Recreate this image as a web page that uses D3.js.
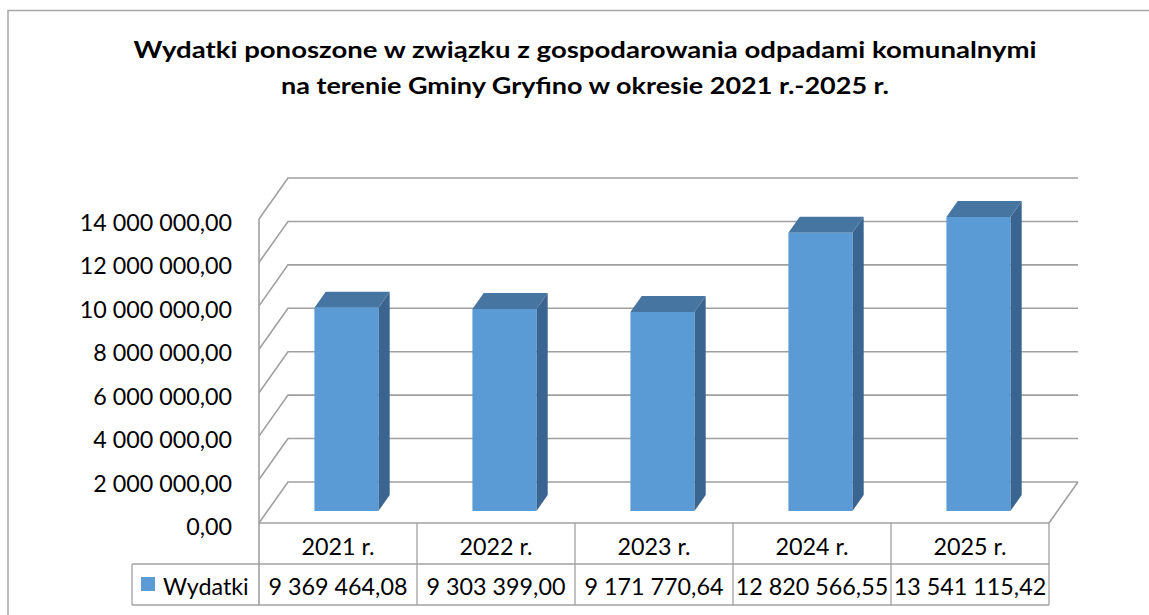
<!DOCTYPE html>
<html>
<head>
<meta charset="utf-8">
<script src="https://cdn.jsdelivr.net/npm/d3@7"></script>
<style>
	html, body { margin: 0; padding: 0; background: #fff; overflow: hidden; }
	svg { display: block; font-family: Lato, "Open Sans", sans-serif; }
</style>
</head>
<body>
<svg id="chart" width="1149" height="615"></svg>
<script>
var titleLines = [
	"Wydatki ponoszone w związku z gospodarowania odpadami komunalnymi",
	"na terenie Gminy Gryfino w okresie 2021 r.-2025 r."
];
var seriesName = "Wydatki";
var years = ["2021 r.", "2022 r.", "2023 r.", "2024 r.", "2025 r."];
var wydatki = [9369464.08, 9303399.00, 9171770.64, 12820566.55, 13541115.42];
var yTicks = [0, 2000000, 4000000, 6000000, 8000000, 10000000, 12000000, 14000000];

var svg = d3.select('#chart');

// polish number format: space thousands, comma decimals
var plLocale = d3.formatLocale({decimal: ",", thousands: " ", grouping: [3], currency: ["", " zł"]});
var fmt = plLocale.format(",.2f");

// depth of the 3d box, in screen pixels
var DX = 29, DY = 41;
// bars sit between these depth fractions
var zFront = 0.29, zBack = 0.68;

var x = d3.scaleBand().domain(years).range([259, 1049]).paddingInner(0).paddingOuter(0);
var y = d3.scaleLinear().domain([0, 14000000]).range([523, 219]);

function project(px, v, z) {
	return [px + z * DX, y(v) - z * DY];
}

// outer frame
svg.append('rect')
	.attr('x', 8).attr('y', 10.5)
	.attr('width', 1200).attr('height', 700)
	.style('fill', 'none')
	.style('stroke', '#a6a6a6')
	.style('stroke-width', 1.5);

// title, stretched to the width of the original
var titleWidths = [903, 608];
svg.append('g').selectAll('text')
	.data(titleLines)
	.enter().append('text')
	.attr('x', 585)
	.attr('y', function(d, i) { return 58 + i * 36; })
	.attr('text-anchor', 'middle')
	.attr('textLength', function(d, i) { return titleWidths[i]; })
	.attr('lengthAdjust', 'spacingAndGlyphs')
	.style('font-weight', 'bold')
	.style('font-size', '23px')
	.style('fill', '#000')
	.text(function(d) { return d; });

var x0 = x.range()[0], x1 = x.range()[1];
var grid = svg.append('g').attr('class', 'grid')
	.style('stroke', '#a0a0a0')
	.style('stroke-width', 1.6)
	.style('fill', 'none');

// back wall lines + left wall diagonals
yTicks.forEach(function(t) {
	var a = project(x0, t, 0), b = project(x0, t, 1), c = project(x1, t, 1);
	grid.append('path').attr('d', 'M' + a + 'L' + b + 'L' + c);
});
// front vertical axis line, continues into the table
grid.append('path').attr('d', 'M' + project(x0, 14000000, 0) + 'L' + [x0, 605]);
// floor right edge
grid.append('path').attr('d', 'M' + project(x1, 0, 0) + 'L' + project(x1, 0, 1));

// bars
var barW = x.bandwidth() * 0.405;
var bars = svg.append('g').selectAll('g.bar')
	.data(years.map(function(d, i) { return {year: d, value: wydatki[i]}; }))
	.enter().append('g').attr('class', 'bar');

bars.each(function(d) {
	var g = d3.select(this);
	var cx = x(d.year) + x.bandwidth() / 2;
	var l = cx - barW / 2, r = cx + barW / 2;
	var poly = function(pts) { return 'M' + pts.join('L') + 'Z'; };
	// side
	g.append('path')
		.attr('d', poly([project(r, 0, zFront), project(r, d.value, zFront), project(r, d.value, zBack), project(r, 0, zBack)]))
		.style('fill', '#3b6591');
	// top
	g.append('path')
		.attr('d', poly([project(l, d.value, zFront), project(r, d.value, zFront), project(r, d.value, zBack), project(l, d.value, zBack)]))
		.style('fill', '#4675a2');
	// front
	g.append('path')
		.attr('d', poly([project(l, 0, zFront), project(r, 0, zFront), project(r, d.value, zFront), project(l, d.value, zFront)]))
		.style('fill', '#5b9bd5');
});

// y axis labels
svg.append('g').selectAll('text')
	.data(yTicks)
	.enter().append('text')
	.attr('x', 232)
	.attr('y', function(d) { return y(d) + 3; })
	.attr('text-anchor', 'end')
	.attr('dominant-baseline', 'central')
	.style('font-size', '23.3px')
	.style('fill', '#000')
	.text(function(d) { return fmt(d); });

// data table
var rowTop = 523, rowMid = 564, rowBot = 605, legendLeft = 132;
var table = svg.append('g').attr('class', 'table');
var tl = table.append('g')
	.style('stroke', '#a0a0a0')
	.style('stroke-width', 1.3)
	.style('fill', 'none');
tl.append('path').attr('d', 'M' + [x0, rowTop] + 'H' + x1);
tl.append('path').attr('d', 'M' + [legendLeft, rowMid] + 'H' + x1);
tl.append('path').attr('d', 'M' + [legendLeft, rowBot] + 'H' + x1);
tl.append('path').attr('d', 'M' + [legendLeft, rowMid] + 'V' + rowBot);
tl.selectAll('path.col')
	.data(years.slice(1).concat(['end']))
	.enter().append('path')
	.attr('class', 'col')
	.attr('d', function(d) {
		var px = d === 'end' ? x1 : x(d);
		return 'M' + [px, rowTop] + 'V' + rowBot;
	});

table.selectAll('text.head')
	.data(years)
	.enter().append('text')
	.attr('class', 'head')
	.attr('x', function(d) { return x(d) + x.bandwidth() / 2; })
	.attr('y', (rowTop + rowMid) / 2 + 2)
	.attr('text-anchor', 'middle')
	.attr('dominant-baseline', 'central')
	.style('font-size', '23.3px')
	.text(function(d) { return d; });

table.selectAll('text.val')
	.data(wydatki)
	.enter().append('text')
	.attr('class', 'val')
	.attr('x', function(d, i) { return x(years[i]) + x.bandwidth() / 2; })
	.attr('y', (rowMid + rowBot) / 2 + 1)
	.attr('text-anchor', 'middle')
	.attr('dominant-baseline', 'central')
	.style('font-size', '23.3px')
	.text(function(d) { return fmt(d); });

// legend key in the table
table.append('rect')
	.attr('x', 141).attr('y', 577)
	.attr('width', 14).attr('height', 14)
	.style('fill', '#5b9bd5');
table.append('text')
	.attr('x', 163)
	.attr('y', (rowMid + rowBot) / 2 + 1)
	.attr('dominant-baseline', 'central')
	.style('font-size', '23.3px')
	.text(seriesName);
</script>
</body>
</html>
